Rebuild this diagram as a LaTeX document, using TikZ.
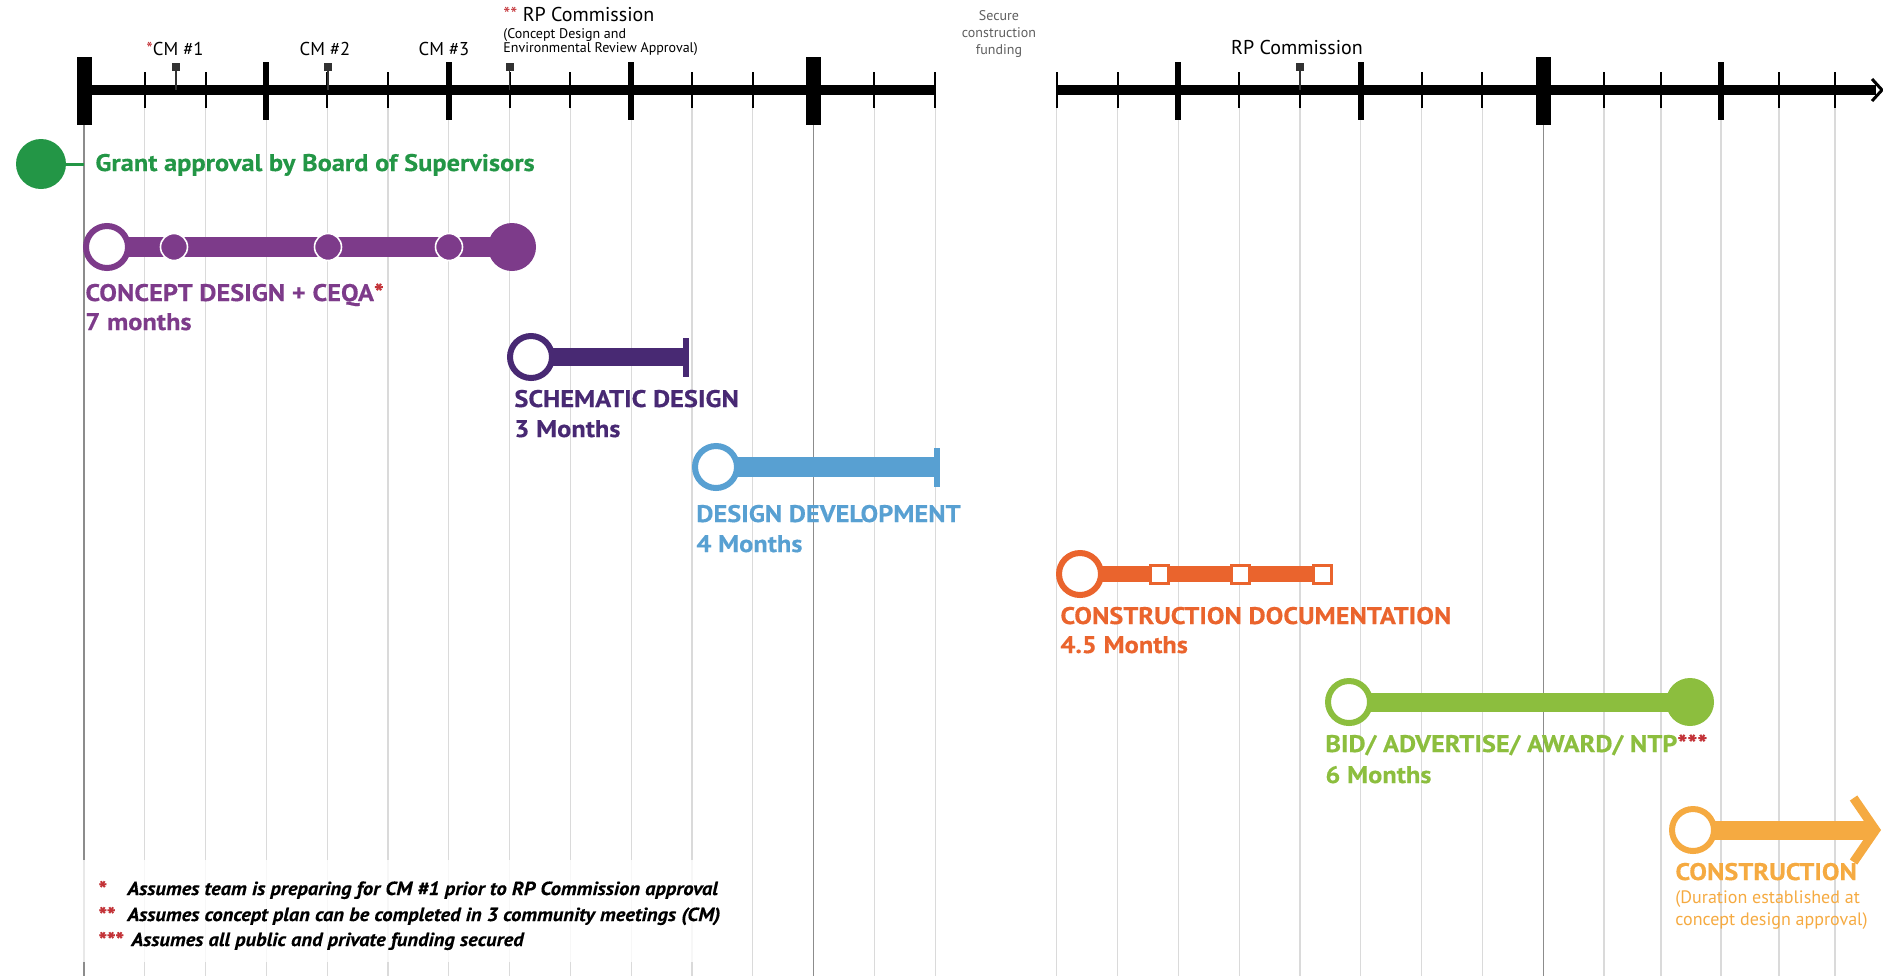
\documentclass[tikz,border=0pt]{standalone}
\usepackage{fontspec}
\setmainfont{PT Sans}
\newfontfamily\labelfont[FakeStretch=1.1,FakeBold=0.4]{PT Sans}
\newfontfamily\notefont[FakeStretch=1.08,FakeBold=0.3]{PT Sans}
\usetikzlibrary{arrows.meta,backgrounds}

\definecolor{grantgreen}{RGB}{35,150,70}
\definecolor{conceptpurple}{RGB}{125,59,138}
\definecolor{schematicpurple}{RGB}{72,41,115}
\definecolor{ddblue}{RGB}{88,160,210}
\definecolor{cdorange}{RGB}{234,100,45}
\definecolor{bidgreen}{RGB}{140,190,62}
\definecolor{buildorange}{RGB}{245,170,65}
\definecolor{notered}{RGB}{195,50,55}
\definecolor{gridgrey}{RGB}{218,218,218}
\definecolor{markgrey}{RGB}{50,50,50}
\definecolor{fundgrey}{RGB}{95,95,95}

\newcommand{\notestar}[1]{\textcolor{notered}{\fontsize{11pt}{12pt}\selectfont\raisebox{-1pt}{#1}}}

\begin{document}
\begin{tikzpicture}[x=0.5pt,y=-0.5pt,
    every node/.style={inner sep=0pt},
    monthline/.style={draw=gridgrey,line width=0.6pt},
    yearline/.style={draw=black!45,line width=0.6pt},
    axisline/.style={line width=5pt},
    minortick/.style={line width=1pt},
    majortick/.style={line width=3pt},
    bigtick/.style={line width=7.5pt},
    cmmark/.style={rectangle,fill=markgrey,minimum size=4pt},
    stem/.style={draw=markgrey,line width=0.7pt},
    toplabel/.style={font=\fontsize{9.3pt}{11pt}\selectfont},
    smalllabel/.style={font=\fontsize{7pt}{8.5pt}\selectfont},
    opendot/.style={circle,draw=#1,fill=white,line width=3pt,minimum size=21pt},
    enddot/.style={circle,fill=#1,minimum size=24pt},
    cmdot/.style={circle,fill=conceptpurple,draw=white,line width=0.8pt,minimum size=13.5pt},
    endcap/.style={rectangle,fill=#1,minimum width=3.3pt,minimum height=19.5pt},
    docbox/.style={rectangle,draw=cdorange,fill=white,line width=1.5pt,minimum size=9pt},
    phasebar/.style={draw=#1,line width=9.5pt},
    phasename/.style={anchor=base west,text=#1,font=\labelfont\fontsize{12pt}{14pt}\selectfont\bfseries},
    phasenote/.style={anchor=base west,text=#1,font=\fontsize{9pt}{11pt}\selectfont},
    notetext/.style={anchor=base west,font=\notefont\fontsize{9.5pt}{11pt}\selectfont\bfseries\itshape}]

    \useasboundingbox (0,0) rectangle (1883,976);

    % time axis
    \coordinate (axisleft) at (84,90);
    \draw[axisline] (axisleft) -- (935.2,90);
    \draw[axisline] (1056.8,90) -- (1876,90);
    \draw[line width=1.5pt] (1872,79) -- (1882,90) -- (1872,101);
    \foreach \x in {144.8,205.6,327.2,388,509.6,570.4,692,752.8,874.4,935.2,1056.8,1117.6,1239.2,1300,1421.6,1482.4,1604,1661,1779,1835}
        \draw[minortick] (\x,72) -- (\x,108);
    \foreach \x in {266.4,448.8,631.2,1178.4,1360.8,1721}
        \draw[majortick] (\x,62) -- (\x,120);
    \foreach \x in {84,813.6,1543.2}
        \draw[bigtick] (\x,57) -- (\x,125);

    % meetings and commission dates
    \node[cmmark] (cm1mark) at (176,67) {};
    \node[cmmark] (cm2mark) at (328,67) {};
    \node[cmmark] (rpmark) at (509.6,67) {};
    \node[cmmark] (rp2mark) at (1300,67) {};
    \foreach \m in {cm1mark,cm2mark,rpmark,rp2mark}
        \draw[stem] (\m) -- (\m |- axisleft);

    \node[toplabel,anchor=base] (cm1label) at (175,55) {\textcolor{notered}{*}CM \#1};
    \node[toplabel,anchor=base] (cm2label) at (325,55) {CM \#2};
    \node[toplabel,anchor=base] (cm3label) at (444,55) {CM \#3};
    \node[toplabel,font=\fontsize{10pt}{12pt}\selectfont,anchor=base west] (rplabel) at (503,21) {\textcolor{notered}{**} RP Commission};
    \node[smalllabel,anchor=base west] (rpnote1) at (503,38) {(Concept Design and};
    \node[smalllabel,anchor=base west] (rpnote2) at (503,52) {Environmental Review Approval)};
    \node[smalllabel,align=center,text=fundgrey,anchor=north] (funding) at (999,10) {Secure\\construction\\funding};
    \node[toplabel,font=\fontsize{10pt}{12pt}\selectfont,anchor=base] (rp2label) at (1297,54) {RP Commission};

    % grant approval
    \node[circle,fill=grantgreen,minimum size=25pt] (grant) at (41,164) {};
    \coordinate (grantend) at (84,164);
    \draw[grantgreen,line width=1.5pt] (grant) -- (grantend);
    \node[phasename=grantgreen] (granttext) at (95,171) {Grant approval by Board of Supervisors};

    % concept design
    \node[opendot=conceptpurple] (conceptstart) at (107,247) {};
    \node[cmdot] (cm1dot) at (174,247) {};
    \node[cmdot] (cm2dot) at (328,247) {};
    \node[cmdot] (cm3dot) at (449,247) {};
    \node[enddot=conceptpurple] (conceptend) at (512,247) {};
    \node[phasename=conceptpurple] (conceptname) at (85,301) {CONCEPT DESIGN + CEQA\textcolor{notered}{*}};
    \node[phasename=conceptpurple] (concepttime) at (85,330) {7 months};

    % schematic design
    \node[opendot=schematicpurple] (sdstart) at (531,357) {};
    \node[endcap=schematicpurple] (sdend) at (686,357) {};
    \node[phasename=schematicpurple] (sdname) at (514,407) {SCHEMATIC DESIGN};
    \node[phasename=schematicpurple] (sdtime) at (514,437) {3 Months};

    % design development
    \node[opendot=ddblue] (ddstart) at (716,467) {};
    \node[endcap=ddblue] (ddend) at (937,467) {};
    \node[phasename=ddblue] (ddname) at (696,522) {DESIGN DEVELOPMENT};
    \node[phasename=ddblue] (ddtime) at (696,552) {4 Months};

    % construction documentation
    \node[opendot=cdorange] (docstart) at (1080,574) {};
    \node[docbox] (docbox1) at (1159,574) {};
    \node[docbox] (docbox2) at (1240,574) {};
    \node[docbox] (docbox3) at (1322,574) {};
    \node[phasename=cdorange] (docname) at (1060,624) {CONSTRUCTION DOCUMENTATION};
    \node[phasename=cdorange] (doctime) at (1060,653) {4.5 Months};

    % bid
    \node[opendot=bidgreen] (bidstart) at (1349,702) {};
    \node[enddot=bidgreen] (bidend) at (1690,702) {};
    \node[phasename=bidgreen] (bidname) at (1325,752) {BID/ ADVERTISE/ AWARD/ NTP\textcolor{notered}{***}};
    \node[phasename=bidgreen] (bidtime) at (1325,783) {6 Months};

    % construction
    \node[opendot=buildorange] (buildstart) at (1693,830) {};
    \coordinate (buildend) at (1881,830);
    \node[phasename=buildorange] (buildname) at (1675,880) {CONSTRUCTION};
    \node[phasenote=buildorange] (buildnote1) at (1675,903) {(Duration established at};
    \node[phasenote=buildorange] (buildnote2) at (1675,925) {concept design approval)};

    % notes
    \fill[white,fill opacity=0.8] (78,860) rectangle (742,962);
    \node[notetext] (note1) at (97,895) {\makebox[15pt][l]{\notestar{*}}Assumes team is preparing for CM \#1 prior to RP Commission approval};
    \node[notetext] (note2) at (97,921) {\makebox[15pt][l]{\notestar{**}}Assumes concept plan can be completed in 3 community meetings (CM)};
    \node[notetext] (note3) at (97,946) {\makebox[17pt][l]{\notestar{***}}Assumes all public and private funding secured};

    \begin{scope}[on background layer]
        \foreach \x in {144.8,205.6,266.4,327.2,388,448.8,509.6,570.4,631.2,692,752.8,874.4,935.2,1056.8,1117.6,1178.4,1239.2,1300,1360.8,1421.6,1482.4,1604,1661,1721,1779,1835}
            \draw[monthline] (\x,90) -- (\x,976);
        \foreach \x in {84,813.6,1543.2}
            \draw[yearline] (\x,90) -- (\x,976);
        \draw[phasebar=conceptpurple,line width=10pt] (conceptstart.center) -- (conceptend.center);
        \draw[phasebar=schematicpurple,line width=9pt] (sdstart.center) -- (sdend.center);
        \draw[phasebar=ddblue,line width=10pt] (ddstart.center) -- (ddend.center);
        \draw[phasebar=cdorange,line width=8pt] (docstart.center) -- (docbox3.center);
        \draw[phasebar=bidgreen] (bidstart.center) -- (bidend.center);
        \draw[phasebar=buildorange,-{Straight Barb[length=11pt,width=32pt,line width=4.5pt]}] (buildstart.center) -- (buildend);
    \end{scope}
\end{tikzpicture}
\end{document}
